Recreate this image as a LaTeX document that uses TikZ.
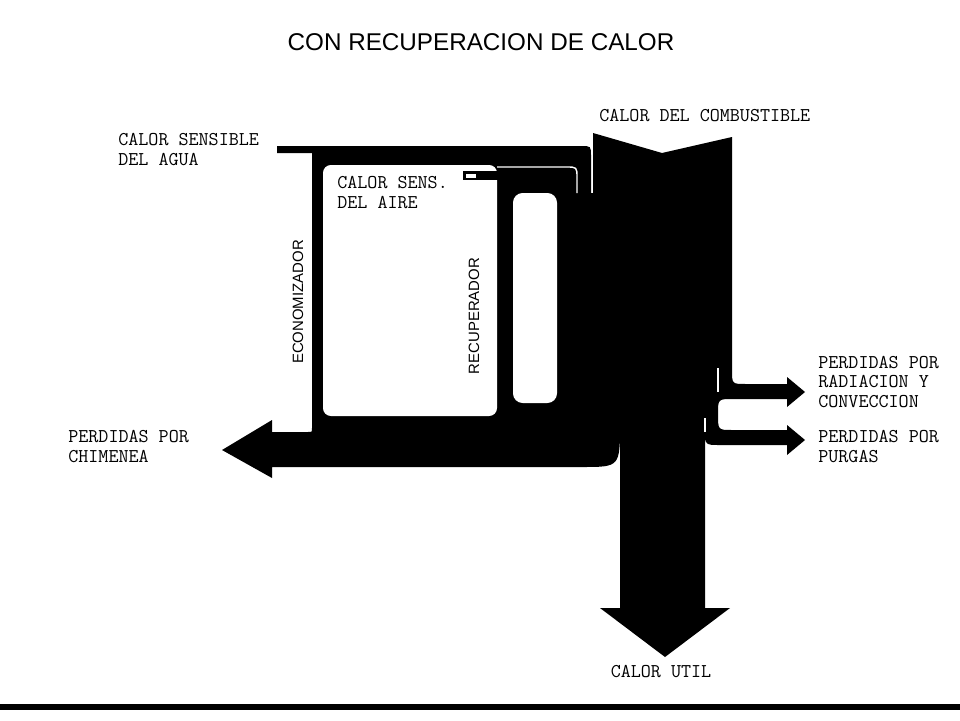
\documentclass[tikz,border=0pt]{standalone}
\usepackage{fontspec}
\setsansfont{Liberation Sans}
\begin{document}
\begin{tikzpicture}[x=0.02cm,y=-0.02cm,
  lbl/.style={font=\ttfamily\fontsize{11.1}{11}\selectfont,align=left,anchor=base west,inner sep=0pt},
  vlbl/.style={font=\sffamily\fontsize{8.5}{10}\selectfont,rotate=90,inner sep=0pt},
  sep/.style={draw=white,line width=0.8pt}]
\useasboundingbox (0,0) rectangle (960,720);
\fill[white] (0,0) rectangle (960,720);
\fill (277,146) -- (581,146) .. controls (591,146) .. (591,156) -- (591,193) -- (593,193)
  -- (593,133) -- (662,153) -- (732,137)
  -- (732,370) .. controls (732,384) .. (746,384) -- (787,384) -- (787,377) -- (805,392) -- (787,407) -- (787,399)
  -- (733,399) .. controls (718,399) .. (718,414) .. controls (718,430) .. (732,430)
  -- (787,430) -- (787,425) -- (805,440) -- (787,455) -- (787,445)
  -- (720,445) .. controls (705,445) .. (705,430)
  -- (705,608) -- (730,608) -- (665,657) -- (600,608) -- (620,608)
  -- (620,423) .. controls (620,467) .. (582,467)
  -- (272,467) -- (272,478) -- (222,450) -- (272,420) -- (272,432)
  -- (308,432) .. controls (312,432) .. (312,428) -- (312,153) -- (277,153) -- cycle;
\fill[white,rounded corners=4.5pt] (323,165) rectangle (497,416);
\fill[white,rounded corners=5.5pt] (513,193) rectangle (557,403);
\fill (463,171) rectangle (500,180);
\fill[white] (466,173.5) rectangle (476,177.5);
\draw[sep] (497,167) -- (566,167) .. controls (577,167) .. (577,178) -- (577,193);
\draw[sep] (718,368) -- (718,392);
\draw[sep] (705,418) -- (705,432);
\fill (0,704) rectangle (960,710);
\node[anchor=base,font=\sffamily\fontsize{13.8}{16}\selectfont] (titulo) at (481,51) {CON RECUPERACION DE CALOR};
\node[lbl] (agua) at (118,165) {CALOR SENSIBLE\\DEL AGUA};
\node[lbl] (aire) at (337,208) {CALOR SENS.\\DEL AIRE};
\node[lbl] (comb) at (599,121) {CALOR DEL COMBUSTIBLE};
\node[lbl] (radiacion) at (818,407) {PERDIDAS POR\\RADIACION Y\\CONVECCION};
\node[lbl] (purgas) at (818,462) {PERDIDAS POR\\PURGAS};
\node[lbl] (chimenea) at (68,462) {PERDIDAS POR\\CHIMENEA};
\node[lbl,anchor=base] (util) at (661,677) {CALOR UTIL};
\node[vlbl] (econ) at (298,302) {ECONOMIZADOR};
\node[vlbl] (recup) at (474,316) {RECUPERADOR};
\end{tikzpicture}
\end{document}
